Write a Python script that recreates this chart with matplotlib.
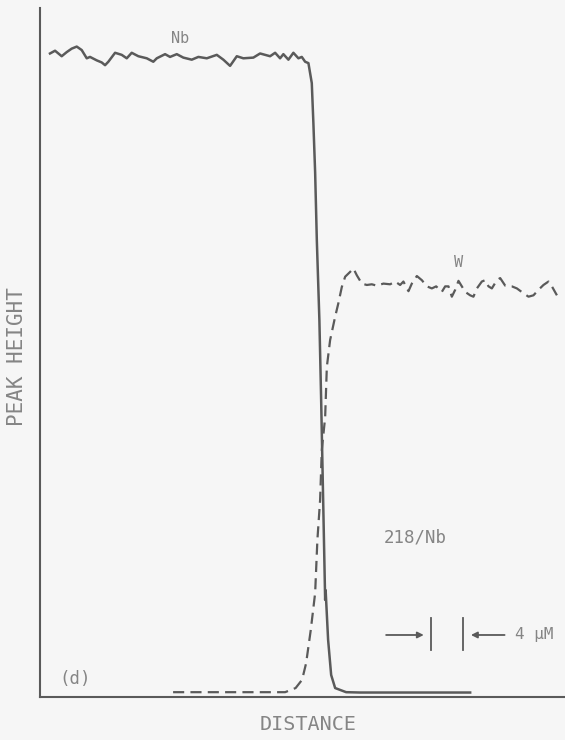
import matplotlib.pyplot as plt

# Nb trace (solid): distance in um, peak height in relative units
nb_x = [1.25, 1.88, 2.71, 3.34, 3.96, 4.59, 5.21, 5.84, 6.25, 7.09, 7.71, 8.13, 8.54,
        9.38, 10.21, 10.84, 11.46, 12.29, 13.34, 14.16, 14.59, 15.63, 16.25, 17.09,
        17.91, 18.96, 19.79, 20.84, 22.09, 22.91, 23.75, 24.59, 25.41, 26.66, 27.5,
        28.75, 29.38, 30.0, 30.41, 31.04, 31.66, 32.29, 32.71, 33.13, 33.54,
        33.96, 34.16, 34.38, 34.59, 34.91, 35.13, 35.38, 35.63, 35.69, 36.0, 36.38,
        36.88, 38.25, 40.0, 53.75]
nb_y = [93.4, 93.8, 93.0, 93.6, 94.1, 94.4, 93.9, 92.7, 92.9, 92.4, 92.1, 91.7, 92.2,
        93.5, 93.2, 92.7, 93.5, 93.0, 92.7, 92.2, 92.7, 93.3, 92.9, 93.3,
        92.8, 92.5, 92.9, 92.7, 93.2, 92.5, 91.6, 93.0, 92.7, 92.8, 93.4,
        93.0, 93.5, 92.7, 93.3, 92.5, 93.5, 92.7, 92.9, 92.2, 92.0,
        89.1, 83.3, 76.1, 66.3, 54.7, 43.1, 28.6, 14.1, 15.5, 8.3, 3.2,
        1.3, 0.7, 0.65, 0.65]

# W trace (dashed)
w_x = [16.63, 30.63, 31.94, 32.75, 33.25, 33.83, 34.38, 34.66, 35.0, 35.21, 35.63,
       35.84, 36.25, 36.88, 37.29, 37.71, 38.13, 38.75, 39.16, 39.59, 40.21, 40.84,
       41.46, 42.09, 42.91, 43.75, 44.38, 45.0, 45.41, 46.04, 46.46, 47.09, 47.71,
       48.34, 48.96, 49.5, 50.21, 50.63, 51.04, 51.46, 51.88, 52.29, 52.71, 53.13,
       53.75, 54.16, 54.59, 55.21, 55.63, 56.04, 56.46, 57.09, 57.5, 58.13, 58.96,
       59.59, 60.41, 61.04, 61.66, 62.29, 62.91, 63.54, 63.96, 64.59]
w_y = [0.7, 0.7, 1.3, 2.5, 4.9, 9.7, 15.1, 22.8, 28.6, 35.8, 40.6,
       47.9, 51.8, 55.2, 57.2, 59.5, 61.0, 61.7, 62.2, 61.2, 60.0, 59.8,
       59.9, 59.7, 60.0, 59.9, 60.3, 59.8, 60.3, 58.9, 60.0, 61.1, 60.5,
       59.6, 59.3, 59.6, 58.8, 59.6, 59.6, 58.1, 59.1, 60.4, 59.6, 58.8,
       58.3, 58.1, 59.3, 60.3, 60.5, 59.6, 59.3, 60.5, 60.8, 59.7, 59.6,
       59.3, 58.6, 58.1, 58.3, 59.1, 59.8, 60.3, 59.6, 58.3]

# 4 um scale bar ticks
bar_left, bar_right = 48.9, 52.9

ink = '#5a5a5a'
txt = '#858585'
bg = '#f6f6f6'
font = 'DejaVu Sans Mono'

fig = plt.figure(figsize=(5.65, 7.4), dpi=100, facecolor=bg)
ax = fig.add_axes([40 / 565, 43 / 740, 525 / 565, 689 / 740], facecolor=bg)

ax.plot(nb_x, nb_y, color=ink, lw=1.8, solid_joinstyle='round')
ax.plot(w_x, w_y, color=ink, lw=1.6, linestyle=(0, (5, 2.8)))

ax.set_xlim(0, 65.6)
ax.set_ylim(0, 100)
for side in ['top', 'right']:
    ax.spines[side].set_visible(False)
for side in ['left', 'bottom']:
    ax.spines[side].set_color(ink)
    ax.spines[side].set_linewidth(1.5)
ax.set_xticks([])
ax.set_yticks([])

# labels on the traces
ax.text(17.5, 95.6, 'Nb', color=txt, fontsize=11, family=font, ha='center', va='center')
ax.text(52.25, 63.1, 'W', color=txt, fontsize=11, family=font, ha='center', va='center')
ax.text(46.9, 23.1, '218/Nb', color=txt, fontsize=12.5, family=font, ha='center', va='center')
ax.text(4.4, 2.6, '(d)', color=txt, fontsize=12.5, family=font, ha='center', va='center')

# scale bar
ax.plot([bar_left, bar_left], [6.8, 11.5], color=ink, lw=1.3)
ax.plot([bar_right, bar_right], [6.8, 11.5], color=ink, lw=1.3)
ax.annotate('', xy=(bar_left - 0.6, 9.0), xytext=(42.9, 9.0),
            arrowprops=dict(arrowstyle='-|>', color=ink, lw=1.3, mutation_scale=9))
ax.annotate('', xy=(bar_right + 0.6, 9.0), xytext=(58.4, 9.0),
            arrowprops=dict(arrowstyle='-|>', color=ink, lw=1.3, mutation_scale=9))
ax.text(59.4, 9.0, '4 μM', color=txt, fontsize=11.5, family=font, ha='left', va='center')

fig.text(308 / 565, 1 - 725 / 740, 'DISTANCE', color=txt, fontsize=14.5, family=font,
         ha='center', va='center')
fig.text(17 / 565, 1 - 357 / 740, 'PEAK HEIGHT', color=txt, fontsize=15, family=font,
         ha='center', va='center', rotation=90)

fig.savefig('out.png', dpi=100, facecolor=bg)
